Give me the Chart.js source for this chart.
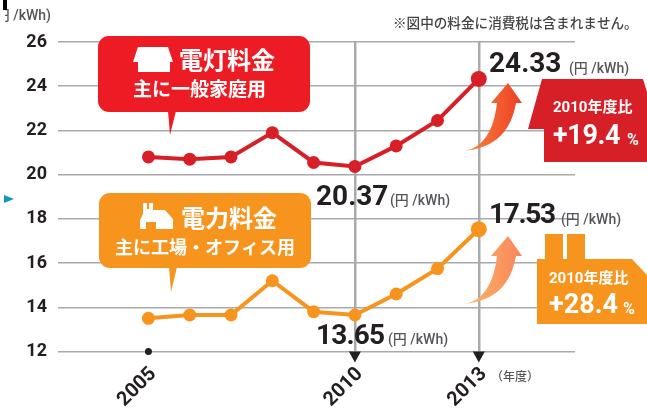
<!DOCTYPE html>
<html>
<head>
<meta charset="utf-8">
<style>
  html, body { margin: 0; padding: 0; background: #fff; }
  #wrap { width: 647px; height: 410px; position: relative; overflow: hidden; }
</style>
<script src="https://cdn.jsdelivr.net/npm/chart.js@4"></script>
</head>
<body>
<div id="wrap"><canvas id="chart" width="647" height="410"></canvas></div>
<script>
const years = [2005, 2006, 2007, 2008, 2009, 2010, 2011, 2012, 2013];
const lightingPrice = [20.8, 20.7, 20.8, 21.9, 20.55, 20.37, 21.3, 22.45, 24.33];
const powerPrice = [13.5, 13.65, 13.65, 15.2, 13.8, 13.65, 14.6, 15.75, 17.53];
const xTickYears = [2005, 2010, 2013];
const yTicks = [12, 14, 16, 18, 20, 22, 24, 26];

const RED = "#d71f27";
const CALL_RED = "#ed1c24";
const ORANGE = "#f7941d";
const INK = "#231f20";
const GREY = "#55565a";
const GRID = "#a9aaae";
const LATIN = "Roboto, 'Noto Sans CJK JP', sans-serif";
const CJK = "'Noto Sans CJK JP', sans-serif";

function text(ctx, str, x, y, font, color, align, spacing) {
    ctx.font = font;
    ctx.fillStyle = color;
    ctx.textAlign = align || "left";
    ctx.textBaseline = "middle";
    ctx.letterSpacing = spacing || "0px";
    ctx.fillText(str, x, y);
    ctx.letterSpacing = "0px";
}

function poly(ctx, pts, fill) {
    ctx.beginPath();
    pts.forEach((p, i) => i ? ctx.lineTo(p[0], p[1]) : ctx.moveTo(p[0], p[1]));
    ctx.closePath();
    ctx.fillStyle = fill;
    ctx.fill();
}

function callout(ctx, x, y, w, h, tailX, tailY, color) {
    ctx.beginPath();
    ctx.roundRect(x, y, w, h, 11);
    ctx.fillStyle = color;
    ctx.fill();
    poly(ctx, [[tailX - 2, y + h - 1], [tailX + 6, y + h - 1], [tailX, tailY]], color);
}

function arrow(ctx, dy, c0, c1) {
    const grad = ctx.createLinearGradient(463, 0, 522, 0);
    grad.addColorStop(0, c0);
    grad.addColorStop(1, c1);
    ctx.beginPath();
    ctx.moveTo(463, 151 + dy);
    ctx.bezierCurveTo(483, 149 + dy, 494, 130 + dy, 497, 103 + dy);
    ctx.lineTo(491, 103 + dy);
    ctx.lineTo(508, 83 + dy);
    ctx.lineTo(522, 103 + dy);
    ctx.lineTo(516, 103 + dy);
    ctx.bezierCurveTo(511, 130 + dy, 497, 148 + dy, 463, 151 + dy);
    ctx.closePath();
    ctx.fillStyle = grad;
    ctx.fill();
}

const decorations = {
    id: "decorations",
    afterDatasetsDraw(chart) {
        const ctx = chart.ctx;
        const xs = chart.scales.x;
        const ys = chart.scales.y;
        ctx.save();

        // marks along the year axis
        ctx.beginPath();
        ctx.arc(xs.getPixelForValue(2005), ys.getPixelForValue(12), 3.5, 0, Math.PI * 2);
        ctx.fillStyle = INK;
        ctx.fill();
        [2010, 2013].forEach(yr => {
            const px = xs.getPixelForValue(yr);
            const py = ys.getPixelForValue(12);
            poly(ctx, [[px - 6, py], [px + 6, py], [px, py + 11]], INK);
        });

        // house callout
        callout(ctx, 98, 36, 212, 76, 170, 135, CALL_RED);
        poly(ctx, [[138, 47], [168, 47], [173, 62], [170, 62], [170, 72], [138, 72], [138, 62], [133, 62]], "#fff");
        text(ctx, "電灯料金", 179, 60, "bold 24px " + CJK, "#fff");
        text(ctx, "主に一般家庭用", 133, 89, "bold 19px " + CJK, "#fff");

        // factory callout
        callout(ctx, 99, 193, 212, 75, 171, 292, ORANGE);
        poly(ctx, [[143, 203], [147, 203], [147, 209], [149, 209], [149, 203], [153, 203], [153, 210], [165, 210], [173, 219], [173, 229], [156, 229], [156, 222], [146, 222], [146, 229], [140, 229], [140, 220], [143, 214]], "#fff");
        text(ctx, "電力料金", 181, 218, "bold 24px " + CJK, "#fff");
        text(ctx, "主に工場・オフィス用", 115, 247, "bold 18px " + CJK, "#fff");

        // value labels
        const unit = "(円 /kWh)";
        const unitFont = "500 14px " + LATIN;
        const numFont = "bold 28px " + LATIN;
        text(ctx, "24.33", 489, 65, numFont, INK);
        text(ctx, unit, 569, 69, unitFont, GREY);
        text(ctx, "20.37", 316, 198, numFont, INK);
        text(ctx, unit, 390, 201, unitFont, GREY);
        text(ctx, "17.53", 489, 216, numFont, INK, "left", "-1.3px");
        text(ctx, unit, 561, 220, unitFont, GREY);
        text(ctx, "13.65", 316, 337, numFont, INK, "left", "-0.8px");
        text(ctx, unit, 388, 340, unitFont, GREY);

        // arrows
        arrow(ctx, 0, "#f68b3d", "#ef3e25");
        arrow(ctx, 153, "#fbb865", "#f9845c");

        // red badge
        poly(ctx, [[542, 79], [643, 79], [647, 92], [647, 162], [544, 162], [544, 129], [528, 129]], RED);
        text(ctx, "2010年度比", 553, 108, "bold 15px " + LATIN, "#fff");
        text(ctx, "+19.4", 553, 137, "bold 27px " + LATIN, "#fff", "left", "-0.4px");
        text(ctx, "%", 627, 141, "bold 16px " + LATIN, "#fff");

        // orange badge
        poly(ctx, [[545, 234], [563, 234], [563, 259], [567, 259], [567, 234], [585, 234], [585, 259], [632, 259], [647, 275], [647, 324], [537, 324], [537, 259], [545, 259]], ORANGE);
        text(ctx, "2010年度比", 549, 279, "bold 15px " + LATIN, "#fff");
        text(ctx, "+28.4", 549, 306, "bold 27px " + LATIN, "#fff");
        text(ctx, "%", 623, 310, "bold 16px " + LATIN, "#fff");

        // notes
        text(ctx, "※図中の料金に消費税は含まれません。", 393, 23, "500 13.6px " + CJK, "#444");
        text(ctx, "（年度）", 491, 376, "500 12px " + CJK, GREY);

        // bits cut off at the left edge of the source
        ctx.save();
        ctx.beginPath();
        ctx.rect(5, 0, 60, 30);
        ctx.clip();
        text(ctx, "(円 /kWh)", 51, 16, "500 14px " + LATIN, GREY, "right");
        ctx.restore();
        ctx.fillStyle = "#000";
        ctx.fillRect(3, 0, 4, 10);
        poly(ctx, [[4, 195], [14, 199], [4, 203]], "#1295c9");

        ctx.restore();
    }
};

new Chart(document.getElementById("chart").getContext("2d"), {
    type: "line",
    data: {
        datasets: [
            {
                label: "電灯料金",
                data: years.map((y, i) => ({ x: y, y: lightingPrice[i] })),
                borderColor: RED,
                backgroundColor: RED,
                borderWidth: 4,
                tension: 0,
                pointRadius: ctx => ctx.dataIndex === years.length - 1 ? 8 : 6.5,
                pointBackgroundColor: RED,
                pointBorderWidth: 0
            },
            {
                label: "電力料金",
                data: years.map((y, i) => ({ x: y, y: powerPrice[i] })),
                borderColor: ORANGE,
                backgroundColor: ORANGE,
                borderWidth: 4,
                tension: 0,
                pointRadius: ctx => ctx.dataIndex === years.length - 1 ? 8 : 6.5,
                pointBackgroundColor: ORANGE,
                pointBorderWidth: 0
            }
        ]
    },
    options: {
        responsive: false,
        animation: false,
        layout: { padding: { top: 42, right: 72, left: 0, bottom: 0 } },
        plugins: { legend: { display: false }, tooltip: { enabled: false } },
        scales: {
            x: {
                type: "linear",
                min: 2002.81,
                max: 2015.33,
                afterBuildTicks: axis => { axis.ticks = xTickYears.map(v => ({ value: v })); },
                afterFit: axis => { axis.height = 58.5; },
                border: { display: false },
                grid: {
                    drawTicks: false,
                    lineWidth: 2.5,
                    color: ctx => ctx.tick && ctx.tick.value === 2005 ? "transparent" : GRID
                },
                ticks: {
                    autoSkip: false,
                    maxRotation: 45,
                    minRotation: 45,
                    padding: 11,
                    labelOffset: 5,
                    color: INK,
                    font: { family: LATIN, size: 20, weight: "bold" },
                    callback: v => String(v)
                }
            },
            y: {
                min: 12,
                max: 26,
                afterBuildTicks: axis => { axis.ticks = yTicks.map(v => ({ value: v })); },
                afterFit: axis => { axis.width = 58; },
                border: { display: false },
                grid: { drawTicks: false, lineWidth: 1.5, color: GRID },
                ticks: {
                    padding: 11,
                    color: INK,
                    font: { family: LATIN, size: 18, weight: "bold" }
                }
            }
        }
    },
    plugins: [decorations]
});
</script>
</body>
</html>
